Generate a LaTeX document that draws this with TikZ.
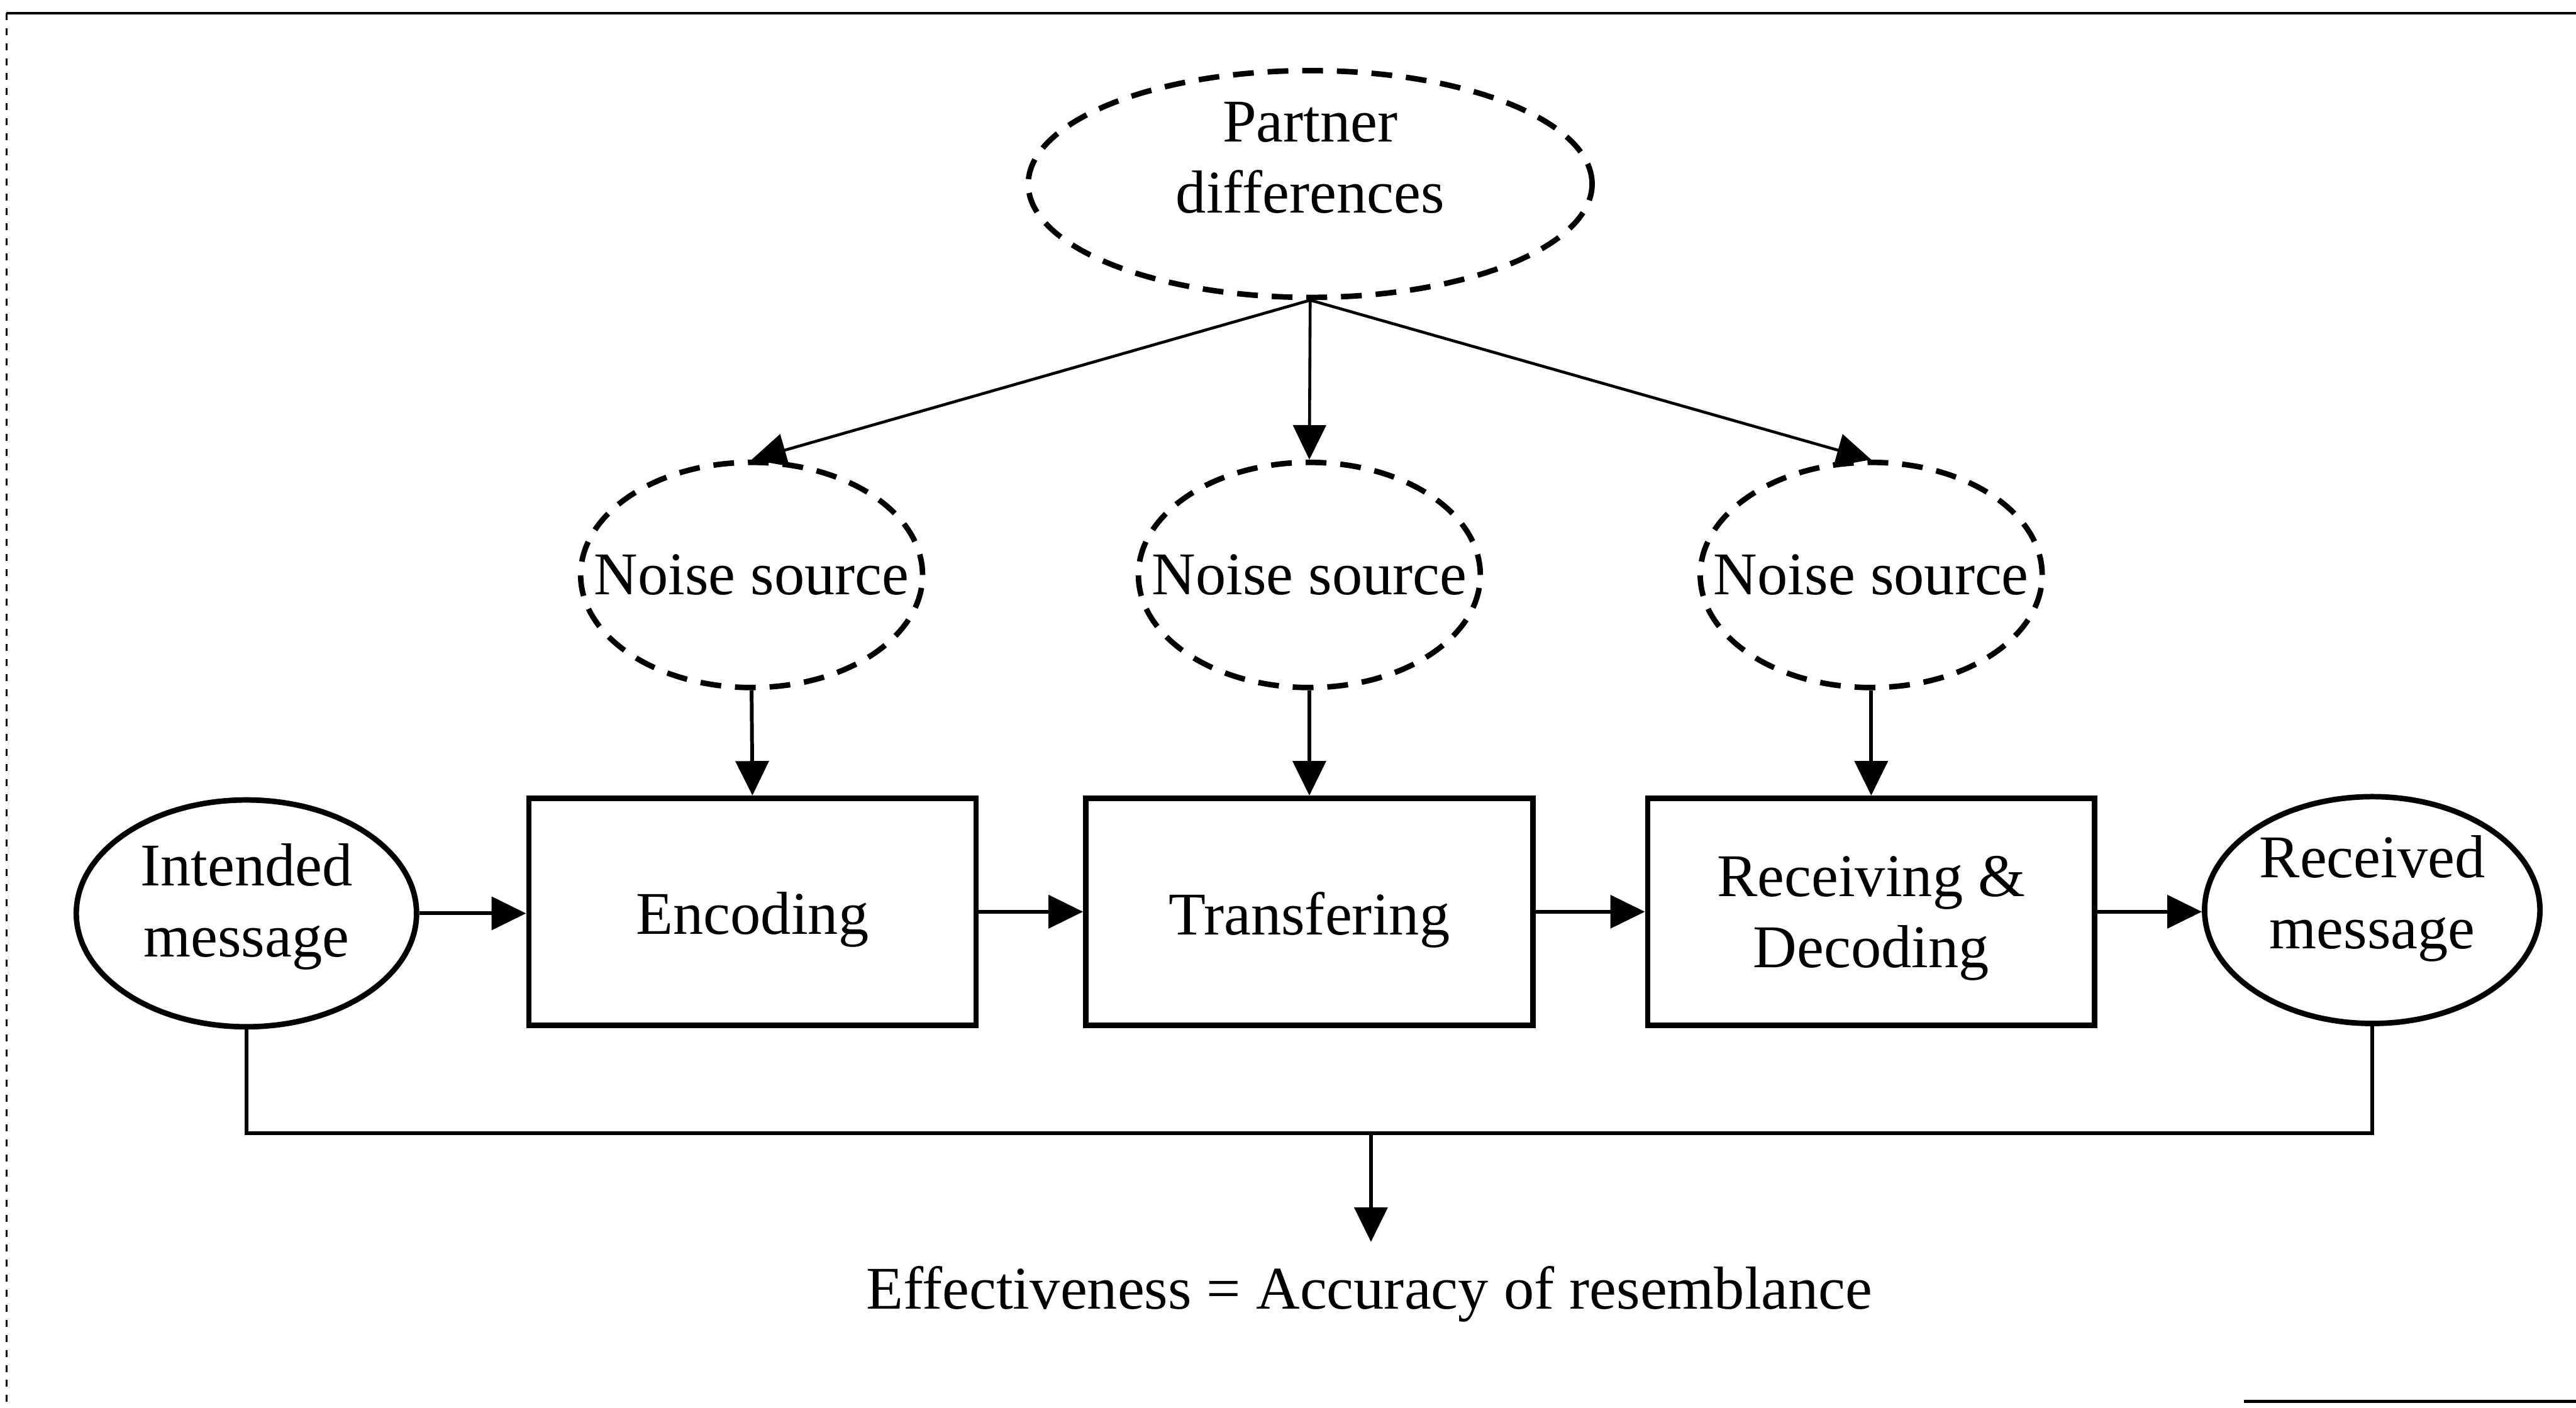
\documentclass[tikz,border=0pt]{standalone}
\usepackage{fontspec}
\setmainfont{Liberation Serif}
\usetikzlibrary{shapes.geometric,arrows.meta}
\begin{document}
\begin{tikzpicture}[x=0.01cm,y=-0.01cm,
  every node/.style={font=\fontsize{10.5pt}{12.3pt}\selectfont},
  shapeline/.style={line width=0.95pt},
  solidell/.style={ellipse, draw, shapeline, inner sep=0pt},
  dashell/.style={ellipse, draw, shapeline, inner sep=0pt, dash pattern=on 3.6pt off 2.4pt},
  stepbox/.style={rectangle, draw, shapeline, minimum width=2.72cm, minimum height=1.38cm, inner sep=0pt},
  conn/.style={line width=0.65pt},
  arr/.style={conn, -{Triangle[length=0.21cm,width=0.2cm]}},
  parr/.style={line width=0.5pt, -{Triangle[length=0.21cm,width=0.2cm]}},
  ]
\useasboundingbox (0,0) rectangle (1568,857);

% outer frame (top rule, dotted left edge, short bottom piece)
\draw[line width=0.5pt] (4,8) -- (1568,8);
\draw[line width=0.35pt, dash pattern=on 1.2pt off 1.4pt] (4,8) -- (4,857);
\draw[line width=0.6pt] (1366,853) -- (1568,853);

% source of the noise
\node[dashell, minimum width=3.43cm, minimum height=1.38cm,
      label={[align=center, yshift=0.16cm]center:Partner\\differences}] (pd) at (797.5,112) {};

% noise sources
\node[dashell, minimum width=2.08cm, minimum height=1.37cm, label={center:Noise source}] (n1) at (457.5,350) {};
\node[dashell, minimum width=2.08cm, minimum height=1.37cm, label={center:Noise source}] (n2) at (797,350) {};
\node[dashell, minimum width=2.08cm, minimum height=1.37cm, label={center:Noise source}] (n3) at (1139,350) {};

% communication chain
\node[solidell, minimum width=2.07cm, minimum height=1.38cm,
      label={[align=center, yshift=0.04cm]center:Intended\\message}] (im) at (150,556) {};
\node[stepbox, label={[yshift=-0.05cm]center:Encoding}] (enc) at (458,555) {};
\node[stepbox, label={[yshift=-0.05cm]center:Transfering}] (tra) at (797,555) {};
\node[stepbox, label={[align=center, yshift=-0.04cm]center:Receiving \&\\Decoding}] (rec) at (1139,555) {};
\node[solidell, minimum width=2.04cm, minimum height=1.38cm,
      label={[align=center, yshift=0.07cm]center:Received\\message}] (rm) at (1444,554) {};

% outcome
\node[inner sep=0pt, outer sep=0.15cm, anchor=base] (eff) at (833.5,797)
      {Effectiveness = Accuracy of resemblance};

% connectors
\foreach \n in {n1,n2,n3} \draw[parr] (pd.south) -- (\n.north);
\draw[arr] (n1.south) -- (enc.north);
\draw[arr] (n2.south) -- (tra.north);
\draw[arr] (n3.south) -- (rec.north);
\draw[arr] (im.east) -- (im.east -| enc.west);
\draw[arr] (enc.east) -- (tra.west);
\draw[arr] (tra.east) -- (rec.west);
\draw[arr] (rec.east) -- (rec.east -| rm.west);
\coordinate (fb) at (834.5,690);
\draw[conn] (im.south) |- (fb) -| (rm.south);
\draw[arr] (fb) -- (fb |- eff.north);
\end{tikzpicture}
\end{document}
